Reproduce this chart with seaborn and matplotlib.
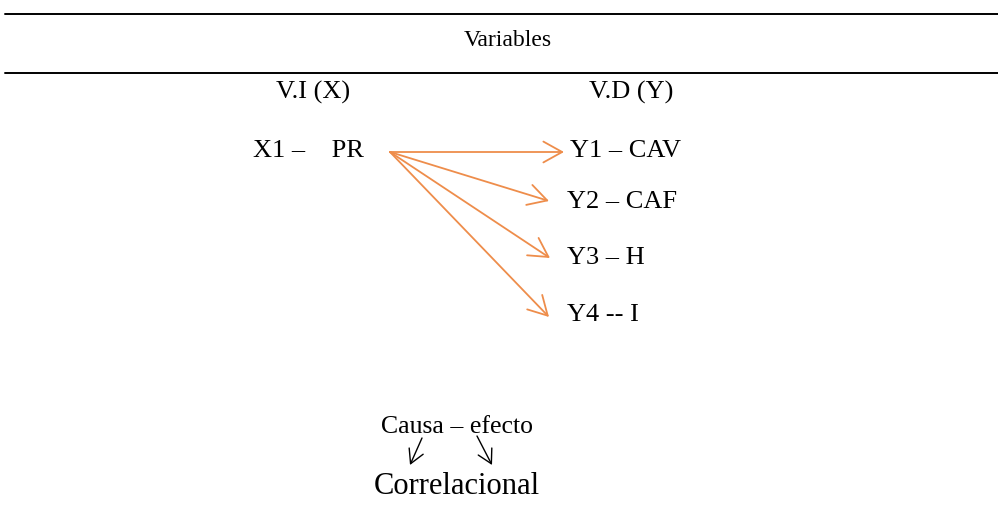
import numpy as np
import pandas as pd
import seaborn as sns
import matplotlib.pyplot as plt

########################################################################
# Diagram content

header_text = 'Variables'
independent_header = 'V.I (X)'
dependent_header = 'V.D (Y)'
independent_label = 'X1 –    PR'
dependent_labels = ['Y1 – CAV', 'Y2 – CAF', 'Y3 – H', 'Y4 -- I']
design_top = 'Causa – efecto'
design_bottom = 'Correlacional'

arrow_color = '#EE8D4B'

########################################################################
# Layout (pixel coordinates of a 998x525 canvas, y pointing down)

sns.set_theme(style='white')
plt.rcParams['font.family'] = ['Liberation Serif', 'DejaVu Serif']

fig, ax = plt.subplots(1, 1, figsize=(9.98, 5.25), dpi=100)
fig.subplots_adjust(left=0, right=1, top=1, bottom=0)

# the two horizontal rules of the table header
df_rules = pd.DataFrame({'x': [5, 998, 5, 998], 'y': [14, 14, 73, 73], 'rule': ['a', 'a', 'b', 'b']})
sns.lineplot(df_rules, x='x', y='y', units='rule', estimator=None, color='black', linewidth=1.4, ax=ax,
             legend=False)
ax.set_xlim(0, 998)
ax.set_ylim(525, 0)
ax.axis('off')

fs = 19
ax.text(508, 41, header_text, ha='center', va='center', fontsize=17, color='black')
ax.text(313, 92, independent_header, ha='center', va='center', fontsize=fs, color='black')
ax.text(631, 92, dependent_header, ha='center', va='center', fontsize=fs, color='black')
ax.text(253, 151, independent_label, ha='left', va='center', fontsize=fs, color='black')

y_targets = [152, 201, 258, 317]
y_text = [151, 202, 258, 315]
x_ends = [564, 549, 550, 549]
x_text = [570, 567, 567, 567]
for label, yt, yl, xe, xt in zip(dependent_labels, y_targets, y_text, x_ends, x_text):
    ax.annotate('', xy=(xe, yt), xytext=(390, 152),
                arrowprops=dict(arrowstyle='->,head_length=0.45,head_width=0.25', color=arrow_color,
                                linewidth=1.3, mutation_scale=30, shrinkA=0, shrinkB=0))
    ax.text(xt, yl, label, ha='left', va='center', fontsize=fs, color='black')

# design type
ax.text(457, 427, design_top, ha='center', va='center', fontsize=18.5, color='black')
ax.annotate('', xy=(410, 465), xytext=(422, 438),
            arrowprops=dict(arrowstyle='->,head_length=0.45,head_width=0.25', color='black',
                            linewidth=1.0, mutation_scale=22, shrinkA=0, shrinkB=0))
ax.annotate('', xy=(492, 465), xytext=(477, 436),
            arrowprops=dict(arrowstyle='->,head_length=0.45,head_width=0.25', color='black',
                            linewidth=1.0, mutation_scale=22, shrinkA=0, shrinkB=0))
ax.text(457, 486, design_bottom, ha='center', va='center', fontsize=22, color='black')

plt.savefig('out.png', dpi=100)
plt.close(fig)
